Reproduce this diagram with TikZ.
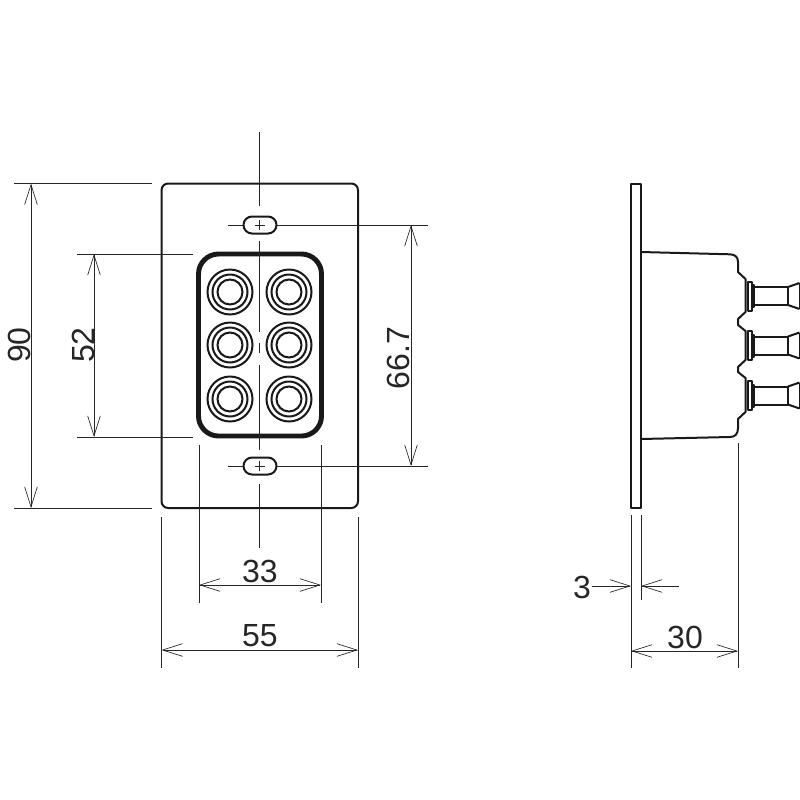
\documentclass[tikz,border=0pt]{standalone}
\usepackage{fontspec}
\setmainfont{Liberation Sans}
\usetikzlibrary{arrows.meta}
\tikzset{
  dimline/.style={draw=black!85,line width=0.7pt},
  dimarrow/.style={dimline,{Straight Barb[length=15pt,width=9.5pt,line width=0.5pt]}-{Straight Barb[length=15pt,width=9.5pt,line width=0.5pt]}},
  endarrow/.style={dimline,-{Straight Barb[length=15pt,width=9.5pt,line width=0.5pt]}},
  outline/.style={draw=black!90,line width=1.5pt,line join=round},
  ring/.style={draw=black!90,line width=1.5pt},
  dimtext/.style={font=\fontsize{24}{24}\selectfont,text=black!85,inner sep=0pt},
}
\begin{document}
\begin{tikzpicture}[x=0.75pt,y=-0.75pt]
  \useasboundingbox (0,0) rectangle (800,800);
  % front view
  \draw[outline,rounded corners=5pt] (161.5,183.5) rectangle (358,508);
  \draw[draw=black!90,line width=3.7pt,rounded corners=15pt] (198.5,254) rectangle (321.5,436);
  \foreach \cy in {292,345,399}{
    \foreach \cx in {230,289}{
      \foreach \rr in {22.5,17.5,12.5}
        \draw[ring] (\cx,\cy) circle[radius=\rr*0.75pt];
    }
  }
  \foreach \sy in {225,466}{
    \draw[outline] (252,\sy-8.5) -- (268,\sy-8.5) arc[start angle=90,end angle=-90,radius=6.375pt] -- (252,\sy+8.5) arc[start angle=270,end angle=90,radius=6.375pt] -- cycle;
    \draw[dimline] (228,\sy) -- (243,\sy);
    \draw[dimline] (277,\sy) -- (428,\sy);
    \draw[dimline] (259.5,\sy-5) -- (259.5,\sy+5);
    \draw[dimline] (254.5,\sy) -- (264.5,\sy);
  }
  % centre line
  \draw[dimline] (259.5,132) -- (259.5,206);
  \draw[dimline] (259.5,241) -- (259.5,332);
  \draw[dimline] (259.5,343) -- (259.5,353);
  \draw[dimline] (259.5,365) -- (259.5,450);
  \draw[dimline] (259.5,484) -- (259.5,548);
  % extension lines
  \draw[dimline] (14,183.5) -- (152,183.5);
  \draw[dimline] (14,508) -- (152,508);
  \draw[dimline] (77,254) -- (193,254);
  \draw[dimline] (77,437) -- (193,437);
  \draw[dimline] (199,445) -- (199,603);
  \draw[dimline] (321,445) -- (321,603);
  \draw[dimline] (161.5,517) -- (161.5,668);
  \draw[dimline] (358,517) -- (358,668);
  % dimensions
  \draw[dimarrow] (31,183.5) -- (31,508);
  \node[dimtext,rotate=90] (len90) at (19.5,345) {90};
  \draw[dimarrow] (94,254) -- (94,437);
  \node[dimtext,rotate=90] (len52) at (83,345) {52};
  \draw[dimarrow] (411,225) -- (411,466);
  \node[dimtext,rotate=90] (len667) at (398,358) {66.7};
  \draw[dimarrow] (199,585) -- (321,585);
  \node[dimtext] (len33) at (260,571) {33};
  \draw[dimarrow] (161.5,650) -- (358,650);
  \node[dimtext] (len55) at (260,636) {55};
  % side view
  \draw[outline] (631,183.5) rectangle (641,508);
  \draw[outline] (641,252) -- (730,254.3) .. controls (735,254.5) and (738,257) .. (738,262)
    -- (738,272) -- (745.5,279) -- (745.5,312) -- (738,319) -- (738,325) -- (745.5,331)
    -- (745.5,360) -- (738,367) -- (738,372) -- (745.5,378) -- (745.5,412) -- (738,419)
    -- (738,428) .. controls (738,434) and (735,437) .. (730,437) -- (641,439);
  \foreach \ty in {296,345.5,395.5}{
    \draw[outline] (748,\ty-14.5) rectangle (751.5,\ty+14.5);
    \draw[outline] (751.5,\ty-11) -- (753.5,\ty-11) -- (753.5,\ty+11) -- (751.5,\ty+11);
    \draw[outline] (753.5,\ty-9) rectangle (788,\ty+9);
    \draw[outline] (788,\ty-9) -- (799.5,\ty-13) (788,\ty+9) -- (799.5,\ty+13);
    \draw[outline] (799.5,\ty-13) -- (799.5,\ty+13);
  }
  \draw[dimline] (631,515) -- (631,668);
  \draw[dimline] (641,515) -- (641,600);
  \draw[dimline] (738,443) -- (738,668);
  \draw[endarrow] (592,586) -- (631,586);
  \draw[endarrow] (679,586) -- (641,586);
  \node[dimtext] (len3) at (582,587) {3};
  \draw[dimarrow] (631,651) -- (738,651);
  \node[dimtext] (len30) at (685,637) {30};
\end{tikzpicture}
\end{document}
